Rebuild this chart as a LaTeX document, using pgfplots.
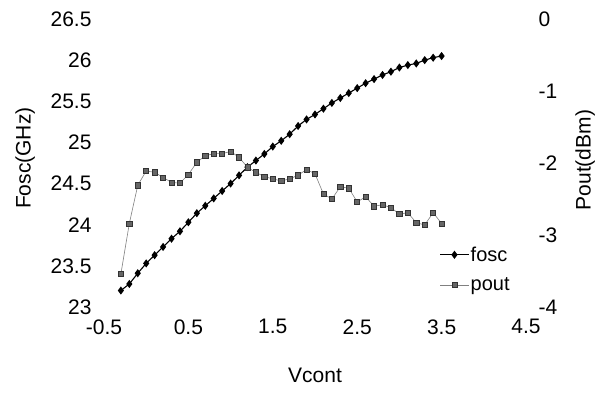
\documentclass[border=0pt]{standalone}
\usepackage{pgfplots}
\pgfplotsset{compat=1.18}
\usepackage{fontspec}
\setmainfont{Liberation Sans}
\begin{document}
\begin{tikzpicture}
\path[use as bounding box] (-104pt,-87pt) rectangle (502pt,307pt);
\pgfplotsset{every axis/.append style={
  scale only axis, width=422pt, height=288pt, at={(0pt,0pt)}, anchor=south west,
  font=\fontsize{21}{25}\selectfont,
  /pgf/number format/assume math mode=true,
  xmin=-0.5, xmax=4.5,
  axis line style={draw=none},
  major tick length=0pt,
  tick style={draw=none},
}}
\begin{axis}[
  ymin=23, ymax=26.5,
  ytick={23,23.5,24,24.5,25,25.5,26,26.5},
  xtick={-0.5,0.5,1.5,2.5,3.5,4.5},
  axis y line*=left, axis x line*=bottom,
  yticklabel style={xshift=-9pt},
  xticklabel style={yshift=-9pt},
  xlabel={Vcont}, ylabel={Fosc(GHz)},
  xlabel style={at={(axis description cs:0.5,-0.236)}, anchor=center},
  ylabel style={at={(axis description cs:-0.187,0.517)}, anchor=center},
  legend style={draw=none, fill=none, at={(axis description cs:0.795,0.215)}, anchor=north west, font=\fontsize{20}{24}\selectfont, /tikz/row sep=12pt, inner sep=0pt, nodes={inner sep=1.5pt}},
  legend cell align=left,
  legend image code/.code={\draw[mark repeat=2,mark phase=2] plot coordinates {(0cm,0cm)(0.5cm,0cm)(1cm,0cm)};},
]
\addplot[black, line width=1.1pt, mark=diamond*, mark size=3.2pt] coordinates {
(-0.3,23.20)(-0.2,23.28)(-0.1,23.41)(0.0,23.53)(0.1,23.63)(0.2,23.73)(0.3,23.83)(0.4,23.92)
(0.5,24.03)(0.6,24.14)(0.7,24.23)(0.8,24.32)(0.9,24.41)(1.0,24.50)(1.1,24.60)(1.2,24.70)
(1.3,24.78)(1.4,24.86)(1.5,24.95)(1.6,25.02)(1.7,25.10)(1.8,25.20)(1.9,25.28)(2.0,25.34)
(2.1,25.41)(2.2,25.48)(2.3,25.54)(2.4,25.60)(2.5,25.66)(2.6,25.72)(2.7,25.77)(2.8,25.82)
(2.9,25.86)(3.0,25.91)(3.1,25.94)(3.2,25.96)(3.3,26.00)(3.4,26.03)(3.5,26.05)};
\addlegendentry{fosc}
\addlegendimage{gray, line width=0.6pt, mark=square*, mark size=2.5pt, mark options={fill=black!60, draw=black!80}}
\addlegendentry{pout}
\end{axis}
\begin{axis}[
  ymin=-4, ymax=0,
  ytick={-4,-3,-2,-1,0},
  axis y line*=right, axis x line=none,
  yticklabel style={xshift=9pt},
  ylabel={Pout(dBm)},
  ylabel style={at={(axis description cs:1.14,0.51)}, anchor=center, rotate=0},
]
\addplot[gray, line width=0.6pt, mark=square*, mark size=2.6pt, mark options={fill=black!60, draw=black!80}] coordinates {
(-0.3,-3.54)(-0.2,-2.84)(-0.1,-2.31)(0.0,-2.11)(0.1,-2.13)(0.2,-2.20)(0.3,-2.27)(0.4,-2.28)
(0.5,-2.16)(0.6,-1.99)(0.7,-1.90)(0.8,-1.87)(0.9,-1.87)(1.0,-1.84)(1.1,-1.92)(1.2,-2.06)
(1.3,-2.13)(1.4,-2.19)(1.5,-2.22)(1.6,-2.25)(1.7,-2.22)(1.8,-2.17)(1.9,-2.09)(2.0,-2.15)
(2.1,-2.43)(2.2,-2.50)(2.3,-2.33)(2.4,-2.35)(2.5,-2.54)(2.6,-2.47)(2.7,-2.60)(2.8,-2.58)
(2.9,-2.62)(3.0,-2.71)(3.1,-2.69)(3.2,-2.83)(3.3,-2.86)(3.4,-2.69)(3.5,-2.84)};
\end{axis}
\end{tikzpicture}
\end{document}
